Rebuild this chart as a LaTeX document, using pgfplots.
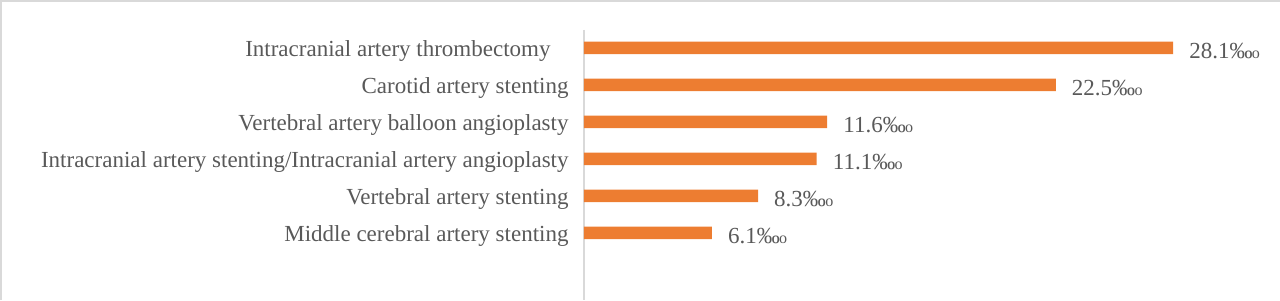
\documentclass[border=0pt]{standalone}
\usepackage{pgfplots}
\pgfplotsset{compat=1.18}
\usepackage{graphicx}
\usepackage{fontspec}
\setmainfont{Liberation Serif}
\definecolor{barorange}{HTML}{ED7D31}
\definecolor{txtgray}{HTML}{595959}
\definecolor{linegray}{HTML}{D9D9D9}
\newcommand\permyriad{‰\kern-0.03em\scalebox{0.7}{o}}
\begin{document}
\begin{tikzpicture}[x=1pt,y=1pt]
\useasboundingbox (0,0) rectangle (1280,300);
\draw[linegray,line width=1.5pt] (1,0) -- (1,299) -- (1280,299);
\begin{axis}[
  at={(584pt,0pt)}, anchor=south west,
  scale only axis, width=629pt, height=270pt,
  xbar, bar width=12.5pt,
  xmin=0, xmax=30,
  y dir=reverse, ymin=-0.48, ymax=6.81,
  ytick={0,1,2,3,4,5},
  yticklabels={Intracranial artery thrombectomy\hspace*{18pt},Carotid artery stenting,Vertebral artery balloon angioplasty,Intracranial artery stenting/Intracranial artery angioplasty,Vertebral artery stenting,Middle cerebral artery stenting},
  yticklabel style={font=\fontsize{23}{27}\selectfont, text=txtgray, inner sep=0pt, anchor=east, xshift=-11pt, yshift=-3pt},
  ytick style={draw=none},
  axis y line*=left, axis x line*=bottom,
  x axis line style={draw=none}, xtick=\empty,
  y axis line style={draw=linegray, line width=1.2pt, -},
  nodes near coords={\pgfmathprintnumber[fixed,fixed zerofill,precision=1,assume math mode=true]{\pgfplotspointmeta}\permyriad},
  nodes near coords style={font=\fontsize{23}{27}\selectfont, text=txtgray, inner sep=0pt, anchor=west, xshift=16pt, yshift=-3pt},
  clip=false,
]
\addplot[fill=barorange, draw=none] coordinates {(28.1,0) (22.5,1) (11.6,2) (11.1,3) (8.3,4) (6.1,5)};
\end{axis}
\end{tikzpicture}
\end{document}
